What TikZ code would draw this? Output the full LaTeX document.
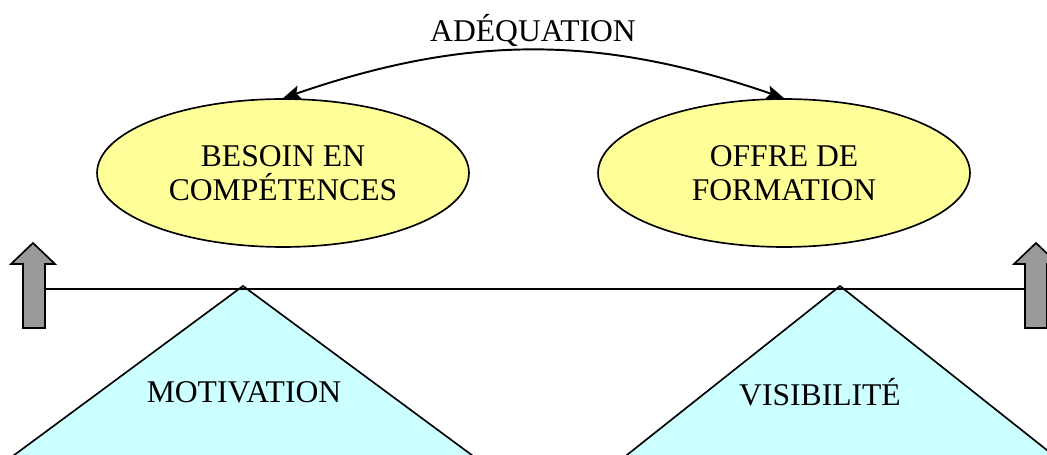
\documentclass[tikz,border=0pt]{standalone}
\usepackage{fontspec}
\setmainfont{Liberation Serif}
\usetikzlibrary{shapes,arrows,arrows.meta,positioning}

\definecolor{needyellow}{HTML}{FFFF99}
\definecolor{baseblue}{HTML}{CCFFFF}
\definecolor{levergray}{HTML}{999999}

\begin{document}
\begin{tikzpicture}[
    x=0.02cm, y=-0.02cm,
    goalbox/.style={ellipse, minimum width=7.44cm, minimum height=2.96cm, inner sep=0pt, align=center, draw=black, fill=needyellow, line width=0.95pt, font=\fontsize{18}{19}\selectfont},
    labeltext/.style={inner sep=0pt, align=center, font=\fontsize{18}{19}\selectfont},
    pillar/.style={draw=black, fill=baseblue, line width=0.95pt, line join=miter},
    lever/.style={draw=black, fill=levergray, line width=0.95pt},
    beam/.style={draw=black, line width=0.95pt},
    arrow/.style={line width=1.1pt,<->,>={Stealth[length=10pt,width=8pt,inset=2pt]}}
]
\useasboundingbox (0,0) rectangle (1047,455);
\clip (0,0) rectangle (1047,455);

% Supports
\path[pillar] (243,286) -- (492,470) -- (-6,470) -- cycle;
\path[pillar] (840,286) -- (1072,470) -- (608,470) -- cycle;
\node[labeltext] (motiv) at (244,392) {MOTIVATION};
\node[labeltext] (visib) at (820,392) {VISIBILITÉ};

% Lever arrows
\path[lever] (23,328) -- (23,264) -- (11,264) -- (33,243) -- (55,264) -- (45,264) -- (45,328) -- cycle;
\path[lever] (1025,328) -- (1025,264) -- (1014,264) -- (1036,243) -- (1058,264) -- (1047,264) -- (1047,328) -- cycle;
\coordinate (lend) at (45,289);
\coordinate (rend) at (1025,289);
\draw[beam] (lend) -- (rend);

% Ellipses
\node[goalbox] (besoin) at (283,173) {BESOIN EN\\COMPÉTENCES};
\node[goalbox] (offre) at (784,173) {OFFRE DE\\FORMATION};

% Adequation
\node[labeltext] (adeq) at (533,30) {ADÉQUATION};
\draw[arrow] (besoin.north) to[bend left=19] (offre.north);

\end{tikzpicture}
\end{document}
